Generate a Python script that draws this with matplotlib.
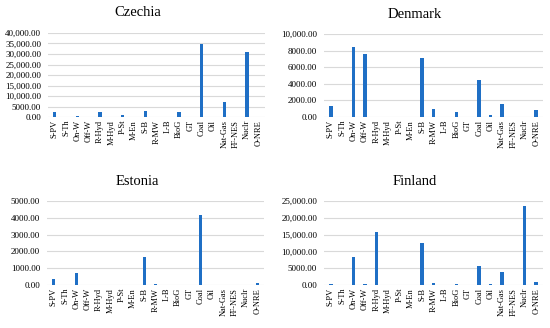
import matplotlib
matplotlib.use("Agg")
import matplotlib.pyplot as plt
from matplotlib.ticker import FuncFormatter, MultipleLocator

categories = ["S-PV", "S-Th", "On-W", "Off-W", "R-Hyd", "M-Hyd", "P-St", "M-En", "S-B",
              "R-MW", "L-B", "BioG", "GT", "Coal", "Oil", "Nat-Gas", "FF-NES", "Nuclr", "O-NRE"]

czechia = [2200, 0, 600, 0, 2200, 0, 1100, 0, 2700, 0, 0, 2500, 0, 34900, 0, 7300, 0, 30800, 0]
denmark = [1300, 0, 8470, 7580, 0, 0, 0, 0, 7140, 970, 0, 600, 0, 4400, 240, 1530, 0, 0, 800]
estonia = [360, 0, 730, 0, 0, 0, 0, 0, 1690, 60, 0, 0, 0, 4150, 20, 20, 0, 0, 100]
finland = [300, 0, 8300, 300, 15800, 0, 0, 0, 12600, 600, 0, 300, 0, 5600, 200, 3800, 0, 23600, 800]

plt.rcParams['font.family'] = ['Liberation Serif', 'DejaVu Serif']

W, H = 550, 328
fig = plt.figure(figsize=(W / 100, H / 100), dpi=100)
fig.patch.set_facecolor("white")

panels = [
    ("Czechia", czechia, 40000, 5000, (48, 265, 33, 117), (138, 13)),
    ("Denmark", denmark, 10000, 2000, (324, 543, 34, 117), (415, 14)),
    ("Estonia", estonia, 5000, 1000, (47, 264, 201, 285), (137, 181)),
    ("Finland", finland, 25000, 5000, (324, 543, 201, 285), (415, 181)),
]

def fmt(v, pos):
    if v >= 10000:
        return f"{v:,.2f}"
    return f"{v:.2f}"

bar_color = "#1F6FC5"
for name, vals, ymax, step, (x0, x1, yt, yb), (tx, ty) in panels:
    ax = fig.add_axes([x0 / W, 1 - yb / H, (x1 - x0) / W, (yb - yt) / H])
    x = list(range(len(categories)))
    ax.bar(x, vals, width=0.3, color=bar_color, zorder=3)
    ax.set_ylim(0, ymax)
    ax.set_xlim(-0.6, len(categories) - 0.4)
    ax.yaxis.set_major_locator(MultipleLocator(step))
    ax.yaxis.set_major_formatter(FuncFormatter(fmt))
    ax.grid(axis="y", color="#D9D9D9", linewidth=0.8, zorder=0)
    for s in ax.spines.values():
        s.set_visible(False)
    ax.tick_params(axis="both", length=0)
    ax.tick_params(axis="y", labelsize=6.5, pad=5, labelcolor="#000000")
    ax.set_xticks(x)
    ax.set_xticklabels(categories, rotation=90, fontsize=6)
    ax.tick_params(axis="x", pad=2)
    fig.text(tx / W, 1 - ty / H, name, ha="center", va="center", fontsize=10.5)

fig.savefig("out.png", dpi=100, facecolor="white")
